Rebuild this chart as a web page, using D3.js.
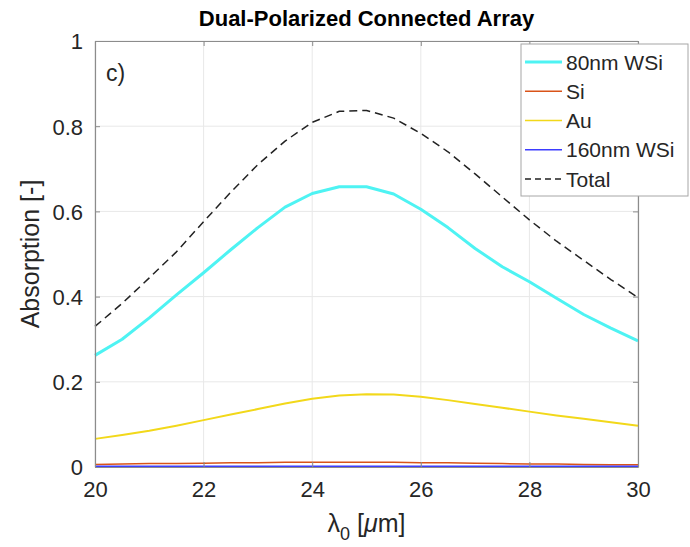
<!DOCTYPE html>
<html>
<head>
<meta charset="utf-8">
<script src="https://cdn.jsdelivr.net/npm/d3@7"></script>
<style>
  html, body { margin: 0; padding: 0; background: #fff; }
  svg { display: block; font-family: "Liberation Sans", Arial, Helvetica, sans-serif; }
</style>
</head>
<body>
<svg id="chart" width="690" height="547"></svg>
<script>
// Wavelength samples (µm)
const wavelength = [20, 20.5, 21, 21.5, 22, 22.5, 23, 23.5, 24, 24.5, 25,
                    25.5, 26, 26.5, 27, 27.5, 28, 28.5, 29, 29.5, 30];

// Absorption per layer
const wsi80  = [0.262, 0.300, 0.350, 0.404, 0.456, 0.510, 0.562, 0.610, 0.642, 0.658, 0.658,
                0.641, 0.605, 0.562, 0.513, 0.470, 0.435, 0.396, 0.358, 0.326, 0.296];
const si     = [0.006, 0.007, 0.008, 0.008, 0.009, 0.010, 0.010, 0.011, 0.011, 0.011, 0.011,
                0.011, 0.010, 0.010, 0.009, 0.008, 0.007, 0.007, 0.006, 0.005, 0.005];
const au     = [0.066, 0.075, 0.085, 0.097, 0.110, 0.123, 0.136, 0.149, 0.160, 0.168, 0.171,
                0.170, 0.165, 0.157, 0.148, 0.139, 0.130, 0.121, 0.113, 0.105, 0.097];
const wsi160 = [0.002, 0.002, 0.002, 0.002, 0.002, 0.002, 0.002, 0.002, 0.002, 0.002, 0.002,
                0.002, 0.002, 0.002, 0.002, 0.002, 0.002, 0.002, 0.002, 0.002, 0.002];
const total  = [0.330, 0.384, 0.444, 0.505, 0.576, 0.645, 0.710, 0.765, 0.809, 0.835, 0.837,
                0.819, 0.783, 0.740, 0.688, 0.634, 0.580, 0.530, 0.485, 0.440, 0.398];

const xTicks = [20, 22, 24, 26, 28, 30];
const yTicks = [0, 0.2, 0.4, 0.6, 0.8, 1];

const seriesNames = ["80nm WSi", "Si", "Au", "160nm WSi", "Total"];

const styles = {
  "80nm WSi":  { color: "#4ef3f3", width: 3,   dash: null },
  "Si":        { color: "#d95319", width: 1.5, dash: null },
  "Au":        { color: "#f2d81a", width: 2,   dash: null },
  "160nm WSi": { color: "#3d3dff", width: 1.5, dash: null },
  "Total":     { color: "#222222", width: 1.5, dash: "8,5" }
};
const seriesValues = { "80nm WSi": wsi80, "Si": si, "Au": au, "160nm WSi": wsi160, "Total": total };

const svg = d3.select("#chart");
const W = 690, H = 547;
const m = { left: 95, right: 52, top: 41, bottom: 80 };
const pw = W - m.left - m.right, ph = H - m.top - m.bottom;

svg.append("rect").attr("width", W).attr("height", H).attr("fill", "#fff");

const x = d3.scaleLinear().domain([20, 30]).range([m.left, m.left + pw]);
const y = d3.scaleLinear().domain([0, 1]).range([m.top + ph, m.top]);

const textColor = "#262626";
const axisColor = "#8c8c8c";

// grid
const grid = svg.append("g");
grid.selectAll(".gx").data(xTicks).join("line")
  .attr("x1", d => x(d)).attr("x2", d => x(d))
  .attr("y1", m.top).attr("y2", m.top + ph)
  .attr("stroke", "#e8e8e8").attr("stroke-width", 1);
grid.selectAll(".gy").data(yTicks).join("line")
  .attr("x1", m.left).attr("x2", m.left + pw)
  .attr("y1", d => y(d)).attr("y2", d => y(d))
  .attr("stroke", "#e8e8e8").attr("stroke-width", 1);

// curves
const line = d3.line().x((d, i) => x(wavelength[i])).y(d => y(d));
const plotOrder = ["80nm WSi", "Si", "Au", "Total", "160nm WSi"];
plotOrder.forEach(name => {
  const s = styles[name];
  svg.append("path")
    .datum(seriesValues[name])
    .attr("d", line)
    .attr("fill", "none")
    .attr("stroke", s.color)
    .attr("stroke-width", s.width)
    .attr("stroke-dasharray", s.dash)
    .attr("stroke-linejoin", "round");
});

// axes (box with inward ticks)
const tickLen = 5;
const axB = svg.append("g").attr("transform", `translate(0,${m.top + ph})`)
  .call(d3.axisBottom(x).tickValues(xTicks).tickSizeInner(-tickLen).tickSizeOuter(0).tickPadding(14).tickFormat(d3.format("d")));
const axT = svg.append("g").attr("transform", `translate(0,${m.top})`)
  .call(d3.axisTop(x).tickValues(xTicks).tickSizeInner(-tickLen).tickSizeOuter(0).tickFormat(""));
const axL = svg.append("g").attr("transform", `translate(${m.left},0)`)
  .call(d3.axisLeft(y).tickValues(yTicks).tickSizeInner(-tickLen).tickSizeOuter(0).tickPadding(12).tickFormat(d => d === 0 || d === 1 ? d3.format("d")(d) : d3.format(".1f")(d)));
const axR = svg.append("g").attr("transform", `translate(${m.left + pw},0)`)
  .call(d3.axisRight(y).tickValues(yTicks).tickSizeInner(-tickLen).tickSizeOuter(0).tickFormat(""));

[axB, axT, axL, axR].forEach(a => {
  a.select(".domain").attr("stroke", axisColor).attr("stroke-width", 1.2);
  a.selectAll(".tick line").attr("stroke", axisColor);
  a.selectAll(".tick text").attr("fill", textColor).style("font-size", "22px")
    .style("font-family", "'Liberation Sans', Arial, sans-serif");
});
axL.selectAll(".tick text").attr("dy", "0.36em");

// panel tag
svg.append("text").attr("x", 106).attr("y", 81).attr("fill", textColor)
  .style("font-size", "23px").text("c)");

// title
svg.append("text").attr("x", m.left + pw / 2).attr("y", 26).attr("text-anchor", "middle")
  .attr("fill", "#000").style("font-size", "22px").style("font-weight", "bold")
  .text("Dual-Polarized Connected Array");

// y label
svg.append("text").attr("transform", `translate(39,${m.top + ph / 2}) rotate(-90)`)
  .attr("text-anchor", "middle").attr("fill", textColor).style("font-size", "25px")
  .text("Absorption [-]");

// x label: λ0 [μm]
const xl = svg.append("text").attr("x", m.left + pw / 2).attr("y", 532)
  .attr("text-anchor", "middle").attr("fill", textColor).style("font-size", "25px");
xl.append("tspan").text("λ");
xl.append("tspan").attr("dy", 8).style("font-size", "18px").text("0");
xl.append("tspan").attr("dy", -8).text(" [");
xl.append("tspan").style("font-style", "italic").text("μ");
xl.append("tspan").text("m]");

// legend
const lg = svg.append("g");
const lgX = 521, lgY = 44, lgW = 167, lgH = 152;
lg.append("rect").attr("x", lgX).attr("y", lgY).attr("width", lgW).attr("height", lgH)
  .attr("fill", "#fff").attr("stroke", "#a6a6a6").attr("stroke-width", 1);
const rowY = d3.scalePoint().domain(seriesNames).range([62, 179]);
seriesNames.forEach(name => {
  const s = styles[name];
  lg.append("line").attr("x1", 525).attr("x2", 562)
    .attr("y1", rowY(name)).attr("y2", rowY(name))
    .attr("stroke", s.color).attr("stroke-width", name === "80nm WSi" ? 3 : 1.5)
    .attr("stroke-dasharray", name === "Total" ? "6,4" : null);
  lg.append("text").attr("x", 566).attr("y", rowY(name)).attr("dy", "0.36em")
    .attr("fill", textColor).style("font-size", "21px").text(name);
});
</script>
</body>
</html>
